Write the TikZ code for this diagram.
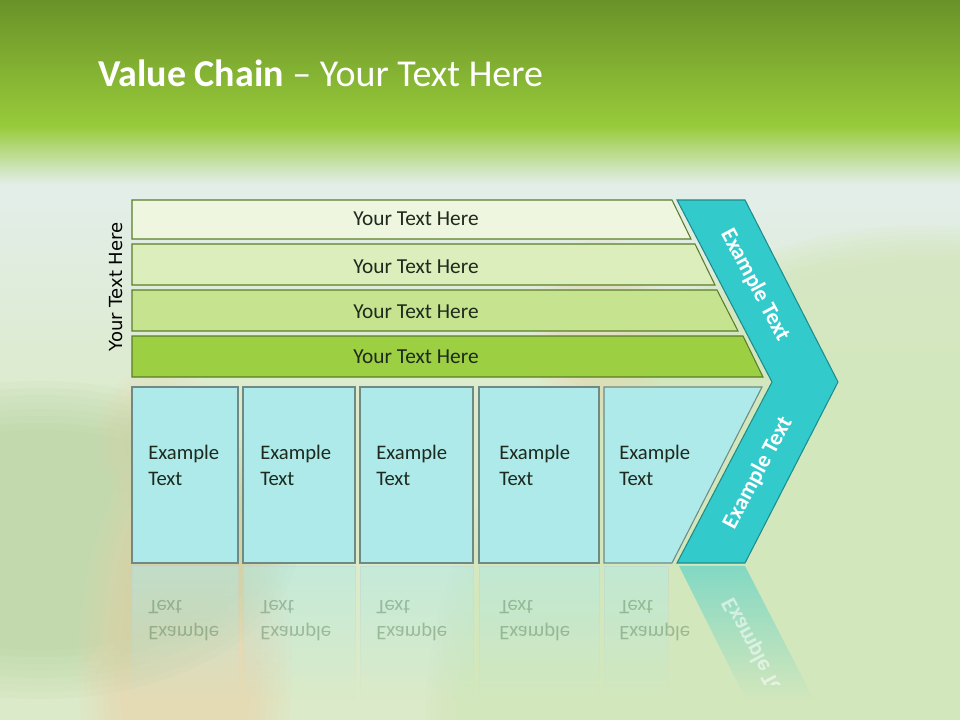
\documentclass[tikz,border=0pt]{standalone}
\usepackage{fontspec}
\setmainfont{Carlito}
\newfontfamily\verd{DejaVu Sans}
\usetikzlibrary{fadings}
\definecolor{titletop}{HTML}{6A9229}
\definecolor{titlebot}{HTML}{98CB3A}
\definecolor{palebg}{HTML}{E3EEEA}
\definecolor{bgg}{HTML}{DBEAC8}
\definecolor{circg}{HTML}{D3E7BA}
\definecolor{darkblob}{HTML}{A9CB95}
\definecolor{orangeblob}{HTML}{F2D2AA}
\definecolor{barA}{HTML}{EEF6DF}
\definecolor{barB}{HTML}{DCEEBC}
\definecolor{barC}{HTML}{C6E490}
\definecolor{barD}{HTML}{9DCF43}
\definecolor{barline}{HTML}{5A7D2A}
\definecolor{boxfill}{HTML}{AEEAEA}
\definecolor{boxline}{HTML}{6F8A84}
\definecolor{chev}{HTML}{33CACB}
\definecolor{chevline}{HTML}{1E8C8C}
\definecolor{txt}{HTML}{1E2A1E}
\tikzfading[name=reflfade, top color=transparent!50, bottom color=transparent!100]
\tikzset{
  barshape/.style={draw=barline, line width=0.8pt},
  boxshape/.style={draw=boxline, fill=boxfill, line width=0.8pt},
  bartext/.style={text=txt, font=\fontsize{16}{19}\selectfont},
  boxtext/.style={text=txt, font=\fontsize{15.5}{19.5}\selectfont, anchor=west, align=left, inner sep=0pt},
  chevtext/.style={text=white, font=\bfseries\fontsize{17}{20}\selectfont, inner sep=0pt},
  refltext/.style={text=gray!70!green!60!black, opacity=0.35, font=\fontsize{15.5}{19.5}\selectfont, anchor=west, yscale=-1, inner sep=0pt},
  reflbox/.style={fill=boxfill, path fading=reflfade, draw=boxline!40, line width=0.6pt}
}
\begin{document}
\begin{tikzpicture}[x=0.75pt,y=-0.75pt]
\useasboundingbox (0,0) rectangle (960,720);
% ---------- background
\fill[bgg] (0,0) rectangle (960,720);
\shade[top color=palebg, bottom color=bgg] (0,180) rectangle (960,430);
\foreach \k in {0,...,7}{
  \fill[circg, opacity=0.14] (930,730) circle[radius=470+\k*5];
  \fill[darkblob, opacity=0.07] (40,540) ellipse[x radius=210+\k*7, y radius=110+\k*7];
  \fill[orangeblob, opacity=0.09] (185,665) ellipse[x radius=65+\k*6, y radius=190+\k*6];
  \fill[orangeblob, opacity=0.06] (600,330) ellipse[x radius=35+\k*5, y radius=60+\k*5];
  \fill[orangeblob, opacity=0.05] (160,440) ellipse[x radius=30+\k*5, y radius=40+\k*5];
}
\shade[top color=titlebot, bottom color=palebg] (0,126) rectangle (960,185);
\shade[top color=titletop, bottom color=titlebot] (0,0) rectangle (960,127);
% ---------- title
\node[anchor=west, text=white, font=\fontsize{28.5}{34}\selectfont, inner sep=0pt] (title) at (98,73)
  {\textbf{Value Chain} – Your Text Here};
% ---------- bars
\draw[barshape, fill=barA] (132,200) -- (672,200) -- (691,239) -- (132,239) -- cycle;
\draw[barshape, fill=barB] (132,244) -- (695,244) -- (715,285) -- (132,285) -- cycle;
\draw[barshape, fill=barC] (132,290) -- (717,290) -- (738,331) -- (132,331) -- cycle;
\draw[barshape, fill=barD] (132,336) -- (743,336) -- (763,377) -- (132,377) -- cycle;
\node[bartext] (t1) at (416,219) {Your Text Here};
\node[bartext] (t2) at (416,267) {Your Text Here};
\node[bartext] (t3) at (416,312) {Your Text Here};
\node[bartext] (t4) at (416,357) {Your Text Here};
\node[rotate=90, font=\verd\fontsize{13.5}{15}\selectfont, text=black, inner sep=0pt] (side) at (116,287) {Your Text Here};
% ---------- boxes
\draw[boxshape] (132,387) rectangle (238,563);
\draw[boxshape] (243,387) rectangle (355,563);
\draw[boxshape] (360,387) rectangle (473,563);
\draw[boxshape] (479,387) rectangle (599,563);
\draw[boxshape] (604,387) -- (762,387) -- (672,563) -- (604,563) -- cycle;
\node[boxtext] (e1) at (148,465) {Example\\Text};
\node[boxtext] (e2) at (260,465) {Example\\Text};
\node[boxtext] (e3) at (376,465) {Example\\Text};
\node[boxtext] (e4) at (499,465) {Example\\Text};
\node[boxtext] (e5) at (619,465) {Example\\Text};
% ---------- chevron
\draw[fill=chev, draw=chevline, line width=0.8pt]
  (677,200) -- (745,200) -- (838,382) -- (745,563) -- (677,563) -- (772,382) -- cycle;
\node[chevtext, rotate=-62] (c1) at (755,285) {Example Text};
\node[chevtext, rotate=62] (c2) at (758,473) {Example Text};
% ---------- reflections
\path[reflbox] (132,566) rectangle (238,700);
\path[reflbox] (243,566) rectangle (355,700);
\path[reflbox] (360,566) rectangle (473,700);
\path[reflbox] (479,566) rectangle (599,700);
\path[reflbox] (604,566) rectangle (668,700);
\path[fill=chev, path fading=reflfade] (679,566) -- (745,566) -- (814,700) -- (746,700) -- cycle;
\foreach \x/\n in {148/1,260/2,376/3,499/4,619/5}{
  \node[refltext] (rt\n) at (\x,607) {Text};
  \node[refltext] (re\n) at (\x,632) {Example};
}
\begin{scope}
\clip (679,566) -- (745,566) -- (806,684) -- (738,684) -- cycle;
\node[chevtext, opacity=0.55, yscale=-1, rotate=62] (rc) at (757,654) {Example Text};
\end{scope}
\end{tikzpicture}
\end{document}
